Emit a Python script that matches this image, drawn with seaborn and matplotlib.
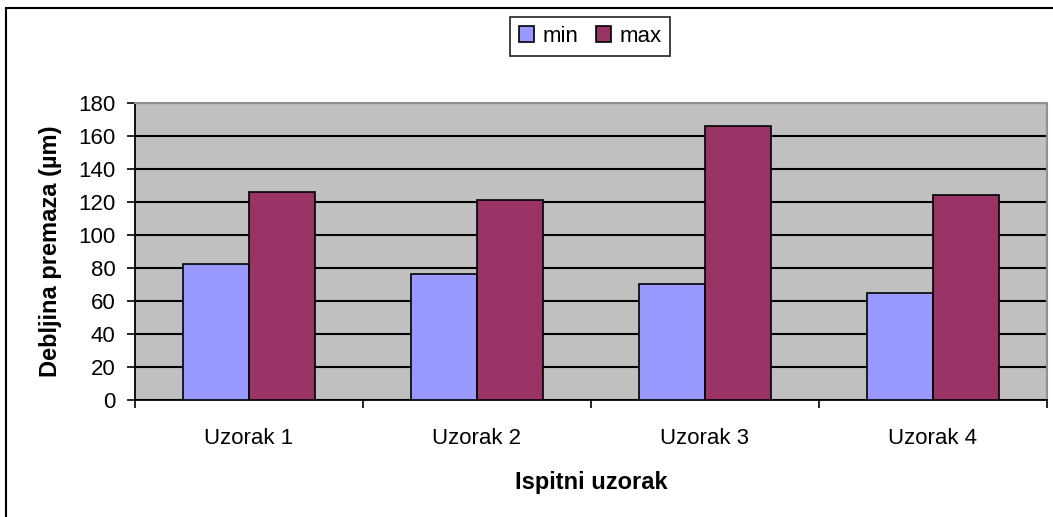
import pandas as pd
import numpy as np
import matplotlib
matplotlib.use("Agg")
import matplotlib.pyplot as plt
import seaborn as sns
from matplotlib.patches import Rectangle

# chart data
samples = ["Uzorak 1", "Uzorak 2", "Uzorak 3", "Uzorak 4"]
min_vals = [82, 76, 70, 65]
max_vals = [126, 121, 166, 124]
series = ["min", "max"]
colors = {"min": "#9999FF", "max": "#993366"}

df = pd.DataFrame({
    "sample": samples * 2,
    "value": min_vals + max_vals,
    "series": ["min"] * len(samples) + ["max"] * len(samples),
})

sns.set_style("white")
plt.rcParams["font.family"] = ["Liberation Sans", "DejaVu Sans"]
plt.rcParams["text.color"] = "black"
plt.rcParams["axes.labelcolor"] = "black"
plt.rcParams["xtick.color"] = "black"
plt.rcParams["ytick.color"] = "black"

fig = plt.figure(figsize=(10.53, 5.17), dpi=100)
ax = fig.add_axes([0.1282, 0.2263, 0.8661, 0.5754])

sns.barplot(data=df, x="sample", y="value", hue="series", hue_order=series,
            palette=colors, width=0.58, edgecolor="black", linewidth=1.2,
            saturation=1, ax=ax, zorder=3)

ax.set_facecolor("#C0C0C0")
ax.set_ylim(0, 180)
ax.set_xlim(-0.5, 3.5)
ax.set_yticks(np.arange(0, 181, 20))
ax.yaxis.grid(True, color="black", linewidth=1.5, zorder=0)
ax.set_axisbelow(True)

# category ticks sit between the groups
ax.set_xticks(np.arange(-0.5, 4, 1.0), minor=True)
ax.tick_params(axis="x", which="major", length=0, labelsize=16, pad=20)
ax.tick_params(axis="x", which="minor", length=6, width=1.2, color="black", direction="out")
ax.tick_params(axis="y", length=6, width=1.2, color="black", direction="out", labelsize=16, pad=8)
ax.tick_params(bottom=True, left=True, which="both")

for side in ["left", "bottom"]:
    ax.spines[side].set_color("black")
    ax.spines[side].set_linewidth(1.3)
for side in ["top", "right"]:
    ax.spines[side].set_color("#909090")
    ax.spines[side].set_linewidth(1.5)

ax.set_xlabel("Ispitni uzorak", fontsize=17, fontweight="bold", labelpad=16)
ax.set_ylabel("Debljina premaza (µm)", fontsize=17, fontweight="bold", labelpad=12)

handles, labels = ax.get_legend_handles_labels()
ax.legend(handles, labels, loc="center", bbox_to_anchor=(0.5603, 0.930),
          bbox_transform=fig.transFigure, ncol=2, frameon=True, fancybox=False,
          edgecolor="black", fontsize=16, handlelength=0.7, handleheight=0.7,
          handletextpad=0.35, columnspacing=0.8, borderpad=0.4, borderaxespad=0)
ax.get_legend().get_frame().set_linewidth(1.3)

# outer chart border (right and bottom edges are cut off in the reference)
fig.patches.append(Rectangle((6 / 1053, -0.1), 1.2, (517 - 8) / 517 + 0.1,
                             transform=fig.transFigure, fill=False,
                             edgecolor="black", linewidth=1.5))

fig.savefig("out.png", dpi=100)
